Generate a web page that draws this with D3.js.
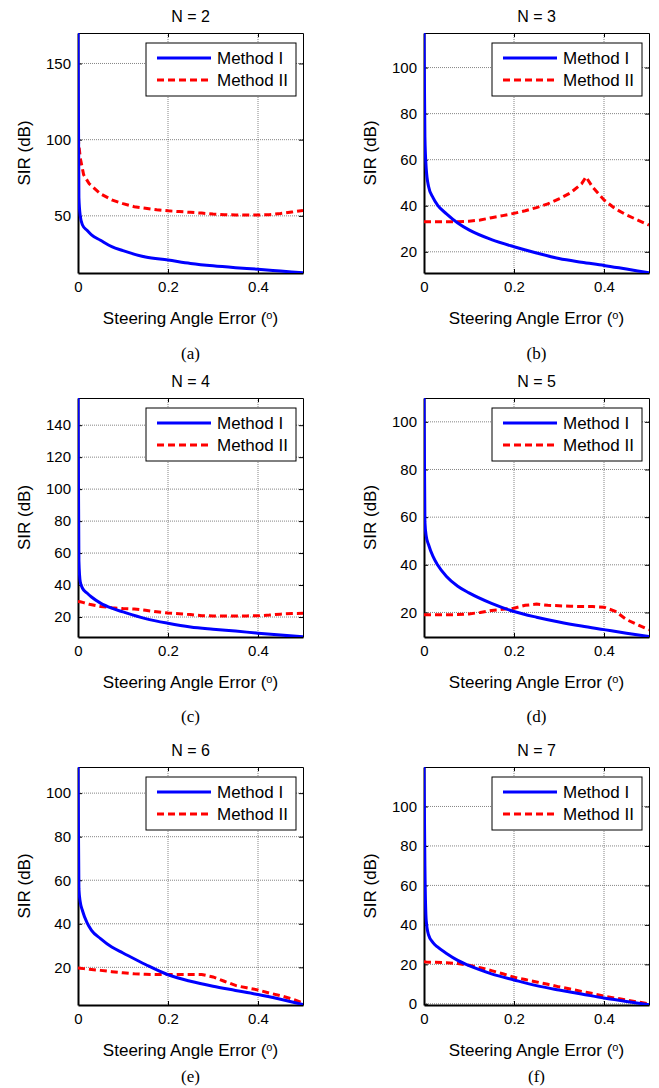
<!DOCTYPE html>
<html lang="en">
<head>
<meta charset="utf-8">
<title>SIR vs steering angle error</title>
<script src="https://d3js.org/d3.v7.min.js"></script>
<style>
  body { margin: 0; background: #fff; }
  text { font-family: "Liberation Sans", Arial, sans-serif; fill: #000; }
</style>
</head>
<body>
<svg width="659" height="1088"></svg>
<script>
// steering angle error grids (degrees)
var errI  = [0, 0.002, 0.005, 0.01, 0.02, 0.03, 0.05, 0.075, 0.1, 0.15, 0.2, 0.25, 0.3, 0.35, 0.4, 0.45, 0.5];
var errII = [0, 0.005, 0.0125, 0.025, 0.05, 0.075, 0.1, 0.125, 0.15, 0.175, 0.2, 0.225, 0.25, 0.275, 0.3, 0.325, 0.35, 0.36, 0.375, 0.4, 0.425, 0.45, 0.475, 0.5];

// Method I, SIR (dB) on errI
var sirI_N2 = [170, 62, 50, 44, 40.5, 37.5, 34, 29.8, 27.2, 23, 21, 18.8, 17.2, 16, 15, 13.8, 12.6];
var sirI_N3 = [115, 70, 56, 48.5, 43.5, 40.3, 36.5, 32.5, 29.5, 25.3, 22.2, 19.5, 17.1, 15.5, 14.1, 12.5, 10.9];
var sirI_N4 = [157, 55, 42, 38, 35, 32.5, 28.7, 25.5, 23.2, 19, 16.1, 13.8, 12.4, 11.2, 9.9, 8.7, 7.6];
var sirI_N5 = [110, 58, 52, 48.5, 43.5, 40, 35.1, 31, 28.2, 23.8, 20.4, 18, 16, 14.3, 12.8, 11.3, 9.9];
var sirI_N6 = [112, 56, 50, 46, 40.5, 37, 33.2, 29.3, 26.6, 21.3, 16.6, 13.6, 11.3, 9.4, 7.5, 5.3, 2.9];
var sirI_N7 = [120, 70, 42, 35, 31, 28.8, 25.5, 22, 19.3, 15.2, 12.1, 9.2, 7, 5, 2.9, 1.2, -0.5];

// Method II, SIR (dB) on errII
var sirII_N2 = [102, 88, 77, 71, 64.5, 60.5, 58, 56, 55, 54, 53.3, 52.8, 52.3, 51.8, 51.2, 50.8, 50.6, 50.6, 50.6, 50.6, 50.8, 51.5, 52.5, 53.5];
var sirII_N3 = [33, 33, 33, 33, 33, 33.1, 33.3, 33.8, 34.8, 35.7, 36.7, 37.8, 39.2, 40.8, 43, 45.5, 49.5, 52.5, 48, 42.5, 38.7, 36, 33.8, 31.6];
var sirII_N4 = [29.8, 29.5, 29, 28, 26.6, 25.8, 25.3, 25, 24.2, 23.3, 22.5, 22, 21.5, 20.8, 20.7, 20.7, 20.7, 20.7, 20.7, 20.8, 21.2, 21.8, 22.2, 22.3];
var sirII_N5 = [19, 19, 19, 19, 19, 19.1, 19.4, 20, 20.8, 21.3, 21.8, 23, 23.5, 23, 22.8, 22.6, 22.5, 22.5, 22.5, 22.2, 20.5, 17, 14.8, 12.7];
var sirII_N6 = [19.7, 19.6, 19.4, 19.1, 18.6, 18, 17.5, 17, 16.8, 16.7, 16.7, 16.7, 16.7, 16.7, 15.6, 13.6, 11.7, 11.2, 10.6, 9.6, 8.2, 7, 5.5, 3.6];
var sirII_N7 = [21.3, 21.2, 21.1, 21, 20.8, 20.4, 19.5, 18.3, 16.8, 15.2, 13.5, 12.3, 11.1, 9.9, 8.6, 7.5, 6.3, 5.9, 5.2, 3.9, 2.9, 1.9, 0.9, 0];

// axis limits and tick labels
var xTicks = [0, 0.2, 0.4];
var yLimits = [[12.5, 170], [10.8, 115], [7.5, 157], [9.7, 110], [2.7, 112], [-0.6, 120]];
var yTicks = [[50, 100, 150], [20, 40, 60, 80, 100], [20, 40, 60, 80, 100, 120, 140],
              [20, 40, 60, 80, 100], [20, 40, 60, 80, 100], [0, 20, 40, 60, 80, 100]];
var titles = ["N = 2", "N = 3", "N = 4", "N = 5", "N = 6", "N = 7"];
var captions = ["(a)", "(b)", "(c)", "(d)", "(e)", "(f)"];
var seriesNames = ["Method I", "Method II"];

var methodI = [sirI_N2, sirI_N3, sirI_N4, sirI_N5, sirI_N6, sirI_N7];
var methodII = [sirII_N2, sirII_N3, sirII_N4, sirII_N5, sirII_N6, sirII_N7];

var svg = d3.select("svg");
svg.append("rect").attr("width", 659).attr("height", 1088).attr("fill", "#fff");

var colLeft = [78, 424];
var axW = 225;
var rows = [{top: 33, bottom: 273, cap: 359}, {top: 398, bottom: 637, cap: 722}, {top: 767, bottom: 1005, cap: 1082}];

titles.forEach(function(title, i) {
  var left = colLeft[i % 2], row = rows[Math.floor(i / 2)];
  var w = axW, h = row.bottom - row.top;
  var g = svg.append("g").attr("transform", "translate(" + left + "," + row.top + ")");

  var x = d3.scaleLinear().domain([0, 0.5]).range([0, w]);
  var y = d3.scaleLinear().domain(yLimits[i]).range([h, 0]);

  g.append("clipPath").attr("id", "clip" + i)
    .append("rect").attr("width", w).attr("height", h);

  // grid
  g.selectAll(".gx").data(xTicks.filter(function(d) { return d > 0; }))
    .enter().append("line")
    .attr("x1", x).attr("x2", x).attr("y1", 0).attr("y2", h)
    .attr("stroke", "#666").attr("stroke-width", 0.8).attr("stroke-dasharray", "1,1");
  g.selectAll(".gy").data(yTicks[i])
    .enter().append("line")
    .attr("x1", 0).attr("x2", w).attr("y1", y).attr("y2", y)
    .attr("stroke", "#666").attr("stroke-width", 0.8).attr("stroke-dasharray", "1,1");

  // axes, ticks inside on all four sides
  var fmt = function(d) { return d === 0 ? "0" : d3.format(".1f")(d); };
  var ax = [
    g.append("g").attr("transform", "translate(0," + h + ")")
      .call(d3.axisBottom(x).tickValues(xTicks).tickSizeInner(-4).tickSizeOuter(0).tickPadding(8).tickFormat(fmt)),
    g.append("g")
      .call(d3.axisLeft(y).tickValues(yTicks[i]).tickSizeInner(-4).tickSizeOuter(0).tickPadding(7)),
    g.append("g")
      .call(d3.axisTop(x).tickValues(xTicks).tickSizeInner(-4).tickSizeOuter(0).tickFormat("")),
    g.append("g").attr("transform", "translate(" + w + ",0)")
      .call(d3.axisRight(y).tickValues(yTicks[i]).tickSizeInner(-4).tickSizeOuter(0).tickFormat(""))
  ];
  ax.forEach(function(a, k) {
    a.attr("font-family", null).attr("font-size", null);
    a.selectAll("text").style("font-size", "15px");
    a.select(".domain").attr("stroke-width", k < 2 ? 2 : 1);
  });

  // curves
  var line = d3.line()
    .x(function(d) { return x(d[0]); })
    .y(function(d) { return y(d[1]); });
  var curves = g.append("g").attr("clip-path", "url(#clip" + i + ")");
  curves.append("path")
    .datum(d3.zip(errII, methodII[i]))
    .attr("d", line.curve(d3.curveLinear))
    .attr("fill", "none").attr("stroke", "#ff0000").attr("stroke-width", 3)
    .attr("stroke-dasharray", "7,4");
  curves.append("path")
    .datum(d3.zip(errI, methodI[i]))
    .attr("d", line.curve(d3.curveMonotoneX))
    .attr("fill", "none").attr("stroke", "#0000ff").attr("stroke-width", 3);

  // labels
  g.append("text").attr("x", w / 2).attr("y", -11)
    .attr("text-anchor", "middle").style("font-size", "16px").text(title);
  g.append("text")
    .attr("transform", "translate(-48," + (h / 2) + ") rotate(-90)")
    .attr("text-anchor", "middle").style("font-size", "17px").text("SIR (dB)");
  var xl = g.append("text").attr("x", w / 2).attr("y", h + 51)
    .attr("text-anchor", "middle").style("font-size", "17px");
  xl.append("tspan").text("Steering Angle Error (");
  xl.append("tspan").attr("dy", -5).style("font-size", "11px").text("o");
  xl.append("tspan").attr("dy", 5).text(")");
  g.append("text").attr("x", w / 2).attr("y", row.cap - row.top)
    .attr("text-anchor", "middle")
    .style("font-family", "'Liberation Serif', 'DejaVu Serif', serif")
    .style("font-size", "17px").text(captions[i]);

  // legend
  var lg = g.append("g").attr("transform", "translate(" + (w - 157) + ",10)");
  lg.append("rect").attr("width", 150).attr("height", 53)
    .attr("fill", "#fff").attr("stroke", "#000").attr("stroke-width", 1);
  seriesNames.forEach(function(name, k) {
    var ly = 15 + k * 22;
    lg.append("line").attr("x1", 11).attr("x2", 65).attr("y1", ly).attr("y2", ly)
      .attr("stroke", k === 0 ? "#0000ff" : "#ff0000").attr("stroke-width", 3)
      .attr("stroke-dasharray", k === 0 ? null : "7,4");
    lg.append("text").attr("x", 71).attr("y", ly).attr("dy", "0.36em")
      .style("font-size", "17px").text(name);
  });
});
</script>
</body>
</html>
